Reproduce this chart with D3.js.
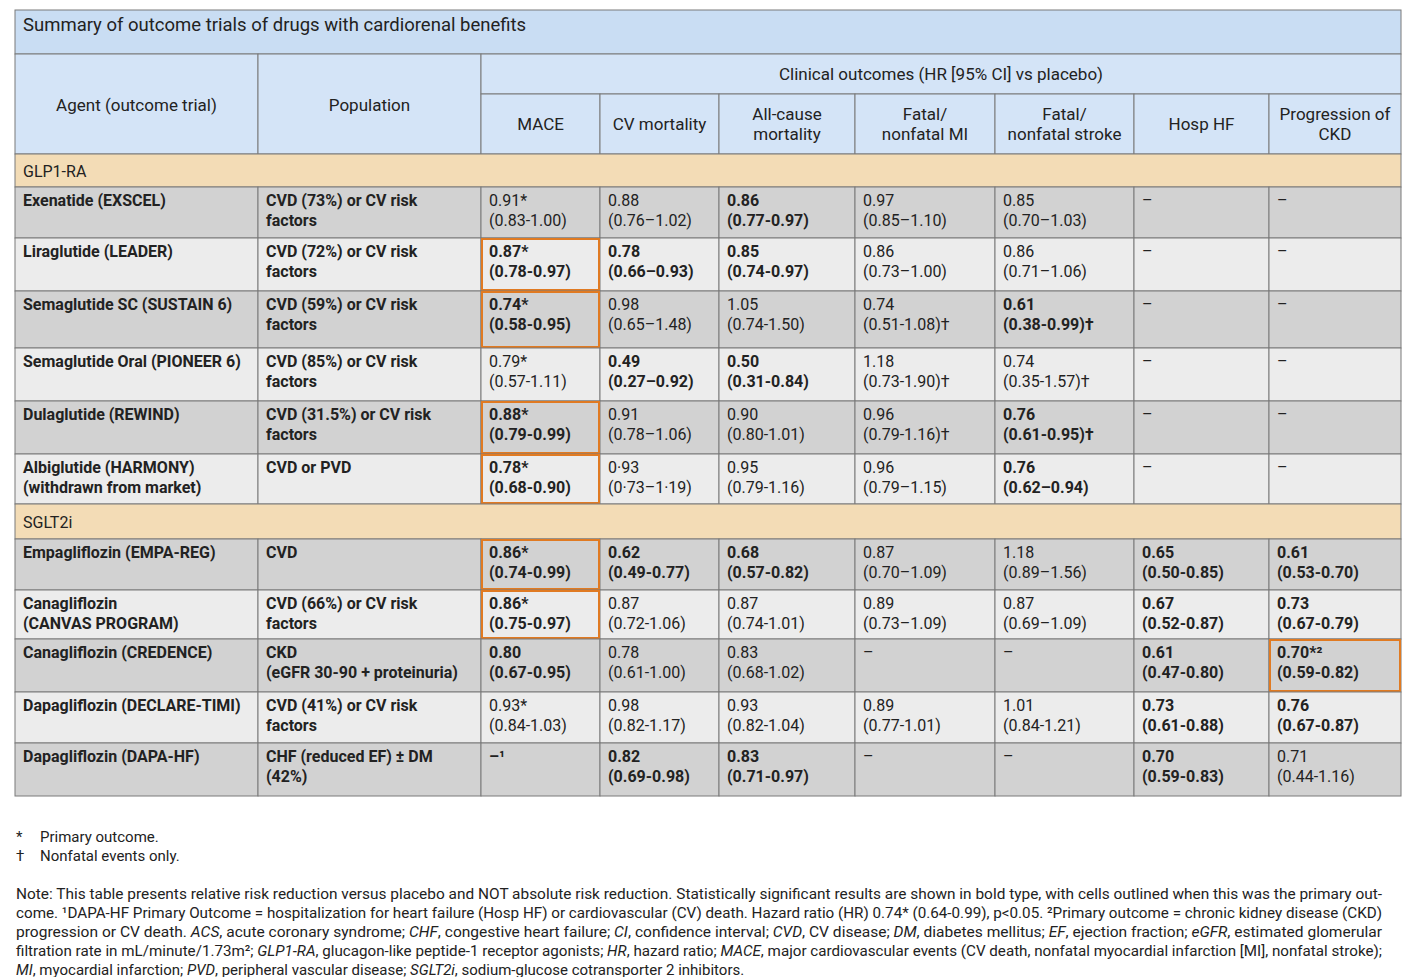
<!DOCTYPE html>
<html><head><meta charset="utf-8">
<script src="https://cdn.jsdelivr.net/npm/d3@7"></script>
<style>body{margin:0;background:#fff;} text{font-family:Roboto,sans-serif;}</style>
</head><body>
<script>
// data
const title = "Summary of outcome trials of drugs with cardiorenal benefits";
const outcomes = ["MACE", "CV mortality", "All-cause\nmortality", "Fatal/\nnonfatal MI", "Fatal/\nnonfatal stroke", "Hosp HF", "Progression of\nCKD"];
const groups = ["GLP1-RA", "SGLT2i"];
const agents = ["Exenatide (EXSCEL)", "Liraglutide (LEADER)", "Semaglutide SC (SUSTAIN 6)", "Semaglutide Oral (PIONEER 6)",
  "Dulaglutide (REWIND)", "Albiglutide (HARMONY)\n(withdrawn from market)",
  "Empagliflozin (EMPA-REG)", "Canagliflozin\n(CANVAS PROGRAM)", "Canagliflozin (CREDENCE)",
  "Dapagliflozin (DECLARE-TIMI)", "Dapagliflozin (DAPA-HF)"];
const agentGroup = [0, 0, 0, 0, 0, 0, 1, 1, 1, 1, 1];
const populations = ["CVD (73%) or CV risk\nfactors", "CVD (72%) or CV risk\nfactors", "CVD (59%) or CV risk\nfactors",
  "CVD (85%) or CV risk\nfactors", "CVD (31.5%) or CV risk\nfactors", "CVD or PVD", "CVD",
  "CVD (66%) or CV risk\nfactors", "CKD\n(eGFR 30-90 + proteinuria)", "CVD (41%) or CV risk\nfactors",
  "CHF (reduced EF) ± DM\n(42%)"];
const values = [
  ["0.91*\n(0.83-1.00)", "0.88\n(0.76–1.02)", "0.86\n(0.77-0.97)", "0.97\n(0.85–1.10)", "0.85\n(0.70–1.03)", "–", "–"],
  ["0.87*\n(0.78-0.97)", "0.78\n(0.66–0.93)", "0.85\n(0.74-0.97)", "0.86\n(0.73–1.00)", "0.86\n(0.71–1.06)", "–", "–"],
  ["0.74*\n(0.58-0.95)", "0.98\n(0.65–1.48)", "1.05\n(0.74-1.50)", "0.74\n(0.51-1.08)†", "0.61\n(0.38-0.99)†", "–", "–"],
  ["0.79*\n(0.57-1.11)", "0.49\n(0.27–0.92)", "0.50\n(0.31-0.84)", "1.18\n(0.73-1.90)†", "0.74\n(0.35-1.57)†", "–", "–"],
  ["0.88*\n(0.79-0.99)", "0.91\n(0.78–1.06)", "0.90\n(0.80-1.01)", "0.96\n(0.79-1.16)†", "0.76\n(0.61-0.95)†", "–", "–"],
  ["0.78*\n(0.68-0.90)", "0·93\n(0·73–1·19)", "0.95\n(0.79-1.16)", "0.96\n(0.79–1.15)", "0.76\n(0.62–0.94)", "–", "–"],
  ["0.86*\n(0.74-0.99)", "0.62\n(0.49-0.77)", "0.68\n(0.57-0.82)", "0.87\n(0.70–1.09)", "1.18\n(0.89–1.56)", "0.65\n(0.50-0.85)", "0.61\n(0.53-0.70)"],
  ["0.86*\n(0.75-0.97)", "0.87\n(0.72-1.06)", "0.87\n(0.74-1.01)", "0.89\n(0.73–1.09)", "0.87\n(0.69–1.09)", "0.67\n(0.52-0.87)", "0.73\n(0.67-0.79)"],
  ["0.80\n(0.67-0.95)", "0.78\n(0.61-1.00)", "0.83\n(0.68-1.02)", "–", "–", "0.61\n(0.47-0.80)", "0.70*²\n(0.59-0.82)"],
  ["0.93*\n(0.84-1.03)", "0.98\n(0.82-1.17)", "0.93\n(0.82-1.04)", "0.89\n(0.77-1.01)", "1.01\n(0.84-1.21)", "0.73\n(0.61-0.88)", "0.76\n(0.67-0.87)"],
  ["–¹", "0.82\n(0.69-0.98)", "0.83\n(0.71-0.97)", "–", "–", "0.70\n(0.59-0.83)", "0.71\n(0.44-1.16)"]
];
// 1 = significant (bold)
const bold = [
  [0,0,1,0,0,0,0],[1,1,1,0,0,0,0],[1,0,0,0,1,0,0],[0,1,1,0,0,0,0],[1,0,0,0,1,0,0],[1,0,0,0,1,0,0],
  [1,1,1,0,0,1,1],[1,0,0,0,0,1,1],[1,0,0,0,0,1,1],[0,0,0,0,0,1,1],[1,1,1,0,0,1,0]
];
// outlined primary-outcome cell (column index, -1 = none)
const outlined = [-1, 0, 0, -1, 0, 0, 0, 0, 6, -1, -1];
const footnotes = [["*", "Primary outcome."], ["†", "Nonfatal events only."]];
const noteLines = [
  "Note: This table presents relative risk reduction versus placebo and NOT absolute risk reduction. Statistically significant results are shown in bold type, with cells outlined when this was the primary out-",
  "come. ¹DAPA-HF Primary Outcome = hospitalization for heart failure (Hosp HF) or cardiovascular (CV) death. Hazard ratio (HR) 0.74* (0.64-0.99), p<0.05. ²Primary outcome = chronic kidney disease (CKD)",
  "progression or CV death. _ACS_, acute coronary syndrome; _CHF_, congestive heart failure; _CI_, confidence interval; _CVD_, CV disease; _DM_, diabetes mellitus; _EF_, ejection fraction; _eGFR_, estimated glomerular",
  "filtration rate in mL/minute/1.73m²; _GLP1-RA_, glucagon-like peptide-1 receptor agonists; _HR_, hazard ratio; _MACE_, major cardiovascular events (CV death, nonfatal myocardial infarction [MI], nonfatal stroke);",
  "_MI_, myocardial infarction; _PVD_, peripheral vascular disease; _SGLT2i_, sodium-glucose cotransporter 2 inhibitors."
];

// layout
const W = 1414, H = 977;
const colX = [15, 258, 481, 600, 719, 855, 995, 1134, 1269, 1401];
const rowH = [51, 53, 57, 53, 53, 50, 51, 49, 53, 51, 53];
const titleY = [10, 54], head1 = [54, 94], head2 = [94, 154];
const lineC = "#7a7a7a";

const svg = d3.select("body").append("svg").attr("width", W).attr("height", H);

function multiText(g, x, y, str, opt) {
  const t = g.append("text").attr("x", x).attr("y", y)
    .attr("font-size", opt.size || 16).attr("fill", "#222")
    .attr("font-weight", opt.bold ? "bold" : "normal")
    .attr("text-anchor", opt.anchor || "start");
  str.split("\n").forEach((s, i) => t.append("tspan").attr("x", x).attr("dy", i ? 20 : 0).text(s));
}
function cell(x0, x1, y0, y1, fill) {
  svg.append("rect").attr("x", x0).attr("y", y0).attr("width", x1 - x0).attr("height", y1 - y0)
    .attr("fill", fill).attr("stroke", lineC).attr("stroke-width", 1);
}

// title
cell(colX[0], colX[9], titleY[0], titleY[1], "#c9ddf3");
svg.append("text").attr("x", 23).attr("y", 31).attr("font-size", 18.5).attr("fill", "#222").text(title);

// header
const hb = "#d4e4f7";
cell(colX[0], colX[1], head1[0], head2[1], hb);
cell(colX[1], colX[2], head1[0], head2[1], hb);
cell(colX[2], colX[9], head1[0], head1[1], hb);
multiText(svg, (colX[0] + colX[1]) / 2, 111, "Agent (outcome trial)", {anchor: "middle", size: 17});
multiText(svg, (colX[1] + colX[2]) / 2, 111, "Population", {anchor: "middle", size: 17});
multiText(svg, (colX[2] + colX[9]) / 2, 80, "Clinical outcomes (HR [95% CI] vs placebo)", {anchor: "middle", size: 17});
outcomes.forEach((o, j) => {
  cell(colX[j + 2], colX[j + 3], head2[0], head2[1], hb);
  const two = o.includes("\n");
  multiText(svg, (colX[j + 2] + colX[j + 3]) / 2, two ? 120 : 130, o, {anchor: "middle", size: 17});
});

// body
let y = head2[1];
let prevGroup = -1;
agents.forEach((a, i) => {
  if (agentGroup[i] !== prevGroup) {
    prevGroup = agentGroup[i];
    const bh = prevGroup === 0 ? 33 : 35;
    cell(colX[0], colX[9], y, y + bh, "#f3dcb6");
    svg.append("text").attr("x", 23).attr("y", y + bh / 2 + 6).attr("font-size", 16).attr("fill", "#222").text(groups[prevGroup]);
    y += bh;
  }
  const h = rowH[i];
  const rowFill = (i < 6 ? i : i - 6) % 2 === 0 ? "#d2d2d2" : "#ececec";
  for (let c = 0; c < 9; c++) cell(colX[c], colX[c + 1], y, y + h, rowFill);
  multiText(svg, colX[0] + 8, y + 19, a, {bold: true});
  multiText(svg, colX[1] + 8, y + 19, populations[i], {bold: true});
  values[i].forEach((v, j) => multiText(svg, colX[j + 2] + 8, y + 19, v, {bold: bold[i][j] === 1}));
  if (outlined[i] >= 0) {
    const c = outlined[i] + 2;
    svg.append("rect").attr("x", colX[c] + 1).attr("y", y + 1).attr("width", colX[c + 1] - colX[c] - 2)
      .attr("height", h - 2).attr("fill", "none").attr("stroke", "#e07a22").attr("stroke-width", 2);
  }
  y += h;
});

// footnotes
footnotes.forEach((f, i) => {
  svg.append("text").attr("x", 16).attr("y", 842 + i * 19).attr("font-size", 15).attr("fill", "#222").text(f[0]);
  svg.append("text").attr("x", 40).attr("y", 842 + i * 19).attr("font-size", 15).attr("fill", "#222").text(f[1]);
});
noteLines.forEach((l, i) => {
  const t = svg.append("text").attr("x", 16).attr("y", 899 + i * 19).attr("font-size", 15).attr("fill", "#222")
    .attr("textLength", i < 4 ? 1366 : null).attr("lengthAdjust", "spacingAndGlyphs");
  l.split("_").forEach((s, k) => t.append("tspan").attr("font-style", k % 2 ? "italic" : "normal").text(s));
});
</script>
</body></html>
